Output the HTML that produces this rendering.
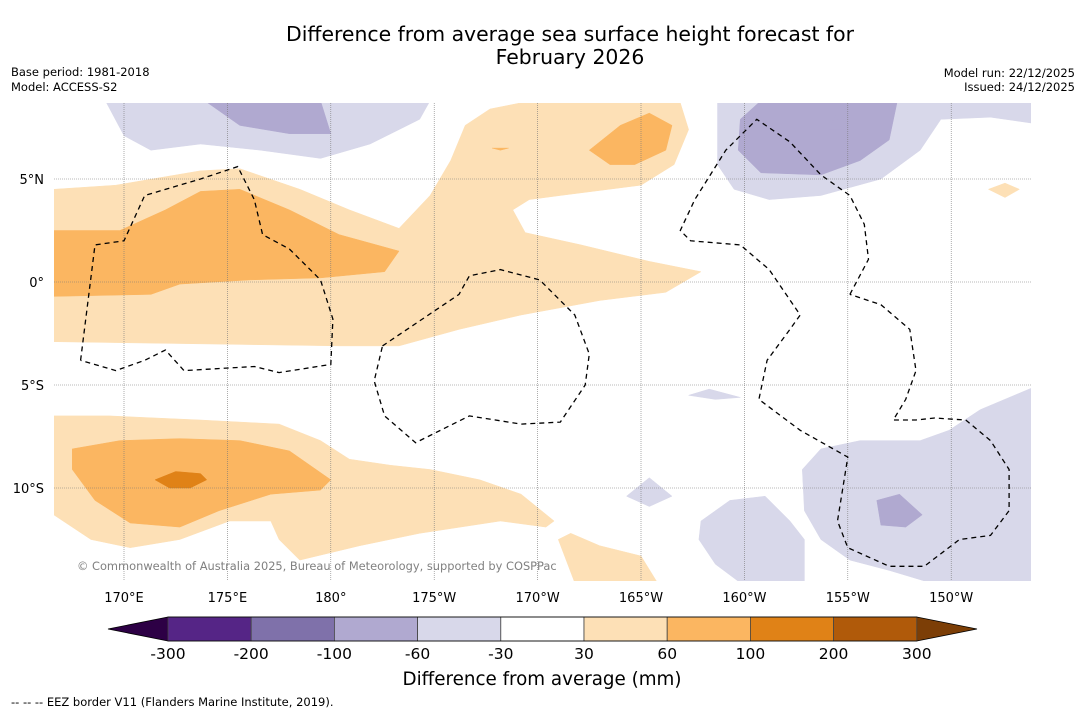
<!DOCTYPE html>
<html><head><meta charset="utf-8"><style>
body{margin:0;background:#fff;width:1085px;height:713px;overflow:hidden;font-family:"DejaVu Sans","Liberation Sans",sans-serif}
svg text{font-family:"DejaVu Sans","Liberation Sans",sans-serif}
</style></head><body>
<svg id="chart" width="1085" height="713" xmlns="http://www.w3.org/2000/svg">
<text x="570" y="41" font-size="20.4" text-anchor="middle">Difference from average sea surface height forecast for</text>
<text x="570" y="64" font-size="20.4" text-anchor="middle">February 2026</text>
<text x="11" y="76" font-size="11.5">Base period: 1981-2018</text>
<text x="11" y="91" font-size="11.5">Model: ACCESS-S2</text>
<text x="1075" y="77" font-size="11.5" text-anchor="end">Model run: 22/12/2025</text>
<text x="1075" y="91" font-size="11.5" text-anchor="end">Issued: 24/12/2025</text>
<defs><clipPath id="mapclip"><rect x="54" y="103" width="977" height="478"/></clipPath></defs>
<g id="map" clip-path="url(#mapclip)"></g>
<g id="grid"></g>
<g id="eez" clip-path="url(#mapclip)"></g>
<g id="axes"></g>
<text x="77" y="570" font-size="11.4" fill="#808080">© Commonwealth of Australia 2025, Bureau of Meteorology, supported by COSPPac</text>
<g id="cbar"></g>
<text x="542" y="685" font-size="18.3" text-anchor="middle">Difference from average (mm)</text>
<text x="11" y="706" font-size="11.5">--  --  -- EEZ border V11 (Flanders Marine Institute, 2019).</text>
</svg>
<script>
const lonTicks=[170,175,180,185,190,195,200,205,210];
const lonLabels=["170°E","175°E","180°","175°W","170°W","165°W","160°W","155°W","150°W"];
const latTicks=[5,0,-5,-10];
const latLabels=["5°N","0°","5°S","10°S"];
const cbColors=["#552586","#7f71aa","#b0a9d0","#d8d8ea","#ffffff","#fde0b6","#fbb661","#e08217","#b05a0a"];
const cbLow="#2d0045",cbHigh="#7c3e06";
const cbLabels=["-300","-200","-100","-60","-30","30","60","100","200","300"];
const lightOrange=[
[166.6,4.5,169.6,4.7,173.7,5.4,175.6,5.5,178.5,4.5,180.9,3.5,183.3,2.6,184.8,4.2,185.8,5.9,186.5,7.6,187.7,8.4,189.2,8.7,196.9,8.7,197.3,7.4,196.6,5.7,195.0,4.7,191.1,4.2,189.6,4.0,188.8,3.5,189.4,2.4,192.1,1.8,195.4,1.0,197.9,0.5,196.2,-0.5,193.0,-0.9,189.2,-1.6,186.2,-2.3,183.3,-3.1,180.4,-3.1,166.6,-2.9],
[166.6,-6.5,169.3,-6.5,173.7,-6.7,177.5,-6.9,179.5,-7.7,180.9,-8.6,182.9,-8.9,184.8,-9.1,187.2,-9.6,189.2,-10.3,190.8,-11.6,190.4,-11.9,188.2,-11.6,184.3,-12.2,181.4,-12.8,178.5,-13.5,177.5,-12.5,177.1,-11.6,175.1,-11.6,172.7,-12.5,170.3,-12.9,168.4,-12.5,166.6,-11.3],
[191.6,-12.2,193.0,-12.8,195.0,-13.3,195.8,-14.6,191.8,-14.6,191.0,-12.5],
[211.8,4.5,212.6,4.8,213.3,4.5,212.6,4.1]];
const medOrange=[
[166.6,2.5,169.8,2.5,172.0,3.5,173.7,4.4,175.6,4.5,178.0,3.5,180.4,2.3,183.3,1.5,182.6,0.5,179.5,0.2,176.1,0.1,172.7,-0.1,171.3,-0.6,166.6,-0.7],
[192.5,6.4,194.0,7.6,195.4,8.2,196.5,7.6,196.2,6.4,194.7,5.7,193.5,5.7],
[187.8,6.5,188.6,6.5,188.2,6.4],
[167.5,-8.1,169.8,-7.7,172.7,-7.6,175.6,-7.7,178.0,-8.2,180.0,-9.6,179.5,-10.1,177.1,-10.3,174.6,-11.1,172.7,-11.9,170.3,-11.7,168.6,-10.6,167.5,-9.1]];
const darkOrange=[[171.5,-9.6,172.5,-9.2,173.7,-9.3,174.0,-9.6,173.2,-10.0,172.2,-10.0]];
const lightPurple=[
[169.1,8.8,184.8,8.8,184.3,7.9,181.9,6.7,179.5,6.0,176.6,6.4,173.7,6.7,171.3,6.4,170.0,7.1],
[198.7,8.8,214,8.8,214,7.7,211.9,8.0,209.5,7.9,208.5,6.4,206.6,5.0,203.7,4.2,201.2,4.0,199.5,4.5,198.7,5.7],
[214,-5.1,214,-14.6,209.0,-14.6,207.0,-14.0,205.1,-13.5,203.7,-12.5,202.9,-11.1,202.8,-9.1,203.7,-8.1,205.6,-7.7,208.5,-7.7,209.9,-7.2,211.4,-6.2],
[197.9,-11.6,199.3,-10.6,201.0,-10.4,202.2,-11.6,202.9,-12.5,202.9,-14.6,199.8,-14.6,198.6,-13.7,197.8,-12.5],
[194.3,-10.4,195.4,-9.5,196.5,-10.4,195.4,-10.9],
[197.3,-5.5,198.3,-5.2,199.8,-5.6,198.6,-5.7]];
const medPurple=[
[173.9,8.8,179.5,8.8,180.0,7.2,178.0,7.2,175.6,7.6],
[199.8,7.9,200.8,8.8,207.4,8.8,207.0,6.9,205.6,5.9,203.7,5.2,200.8,5.3,199.7,6.4],
[204.1,7.4,204.4,8.1,204.7,7.4],
[206.4,-10.6,207.5,-10.3,208.6,-11.3,207.8,-11.9,206.6,-11.8]];
const eezLines=[
[167.9,-3.8,168.6,1.8,170.0,2.0,171.0,4.2,173.7,5.0,175.5,5.6,176.3,4.0,176.7,2.3,178.0,1.6,179.5,0.1,180.1,-1.8,180.0,-4.0,177.5,-4.4,176.3,-4.1,172.9,-4.3,172.0,-3.3,171.0,-3.8,169.6,-4.3,167.9,-3.8],
[182.5,-3.1,186.2,-0.6,186.7,0.3,188.2,0.6,190.1,0.1,191.8,-1.6,192.5,-3.5,192.3,-5.0,191.1,-6.8,189.2,-6.9,186.7,-6.5,184.1,-7.8,182.6,-6.5,182.1,-4.8,182.5,-3.1],
[205.1,-0.6,206.0,1.1,205.8,2.8,205.1,4.2,203.7,5.2,202.2,6.8,200.6,7.9,199.1,6.4,197.6,4.0,196.9,2.5,197.4,2.0,199.8,1.8,201.2,0.6,202.7,-1.6,202.2,-2.3,201.1,-3.8,200.7,-5.7,202.7,-7.2,205.0,-8.5,204.5,-11.6,205.0,-12.9,207.0,-13.8,208.7,-13.8,210.4,-12.5,211.9,-12.3,212.8,-11.1,212.8,-9.1,211.9,-7.7,210.7,-6.7,209.2,-6.6,208.3,-6.7,207.2,-6.7,207.8,-5.7,208.3,-4.3,208.0,-2.3,206.6,-1.1,205.1,-0.6]];

const NS="http://www.w3.org/2000/svg";
const X=lon=>124+(lon-170)*20.68;
const Y=lat=>282-lat*20.6;
function pts(a){let s=[];for(let i=0;i<a.length;i+=2)s.push(X(a[i]).toFixed(1)+","+Y(a[i+1]).toFixed(1));return s.join(" ");}
const map=document.getElementById('map');
function layer(list,fill,name){list.forEach(p=>{const e=document.createElementNS(NS,'polygon');e.setAttribute('points',pts(p));e.setAttribute('fill',fill);
e.setAttribute('stroke',fill);e.setAttribute('stroke-width','0.5');


map.appendChild(e);});}
layer(lightOrange,cbColors[5],'anomaly-30-60');
layer(medOrange,cbColors[6],'anomaly-60-100');
layer(darkOrange,cbColors[7],'anomaly-100-200');
layer(lightPurple,cbColors[3],'anomaly-minus60-minus30');
layer(medPurple,cbColors[2],'anomaly-minus100-minus60');
const eez=document.getElementById('eez');
eezLines.forEach(p=>{const e=document.createElementNS(NS,'polyline');e.setAttribute('points',pts(p));e.setAttribute('fill','none');e.setAttribute('stroke','#000');e.setAttribute('stroke-width','1.3');e.setAttribute('stroke-dasharray','5,4');


eez.appendChild(e);});
const grid=document.getElementById('grid'),axes=document.getElementById('axes');
lonTicks.forEach((t,i)=>{const l=document.createElementNS(NS,'line');l.setAttribute('x1',X(t));l.setAttribute('x2',X(t));l.setAttribute('y1',103);l.setAttribute('y2',581);l.setAttribute('stroke','#777');l.setAttribute('stroke-width','0.6');l.setAttribute('stroke-dasharray','1,1');


grid.appendChild(l);
const tx=document.createElementNS(NS,'text');tx.setAttribute('x',X(t));tx.setAttribute('y',602);tx.setAttribute('font-size','13');tx.setAttribute('text-anchor','middle');tx.textContent=lonLabels[i];


axes.appendChild(tx);});
latTicks.forEach((t,i)=>{const l=document.createElementNS(NS,'line');l.setAttribute('x1',54);l.setAttribute('x2',1031);l.setAttribute('y1',Y(t));l.setAttribute('y2',Y(t));l.setAttribute('stroke','#777');l.setAttribute('stroke-width','0.6');l.setAttribute('stroke-dasharray','1,1');


grid.appendChild(l);
const tx=document.createElementNS(NS,'text');tx.setAttribute('x',44);tx.setAttribute('y',Y(t)+5);tx.setAttribute('font-size','13');tx.setAttribute('text-anchor','end');tx.textContent=latLabels[i];


axes.appendChild(tx);});
const cb=document.getElementById('cbar');const cx0=168,cw=83.2,cy=617,ch=24;
const lt=document.createElementNS(NS,'polygon');lt.setAttribute('points',`108,629 ${cx0},${cy} ${cx0},${cy+ch}`);lt.setAttribute('fill',cbLow);


cb.appendChild(lt);
const xe=cx0+cw*cbColors.length;
const rt=document.createElementNS(NS,'polygon');rt.setAttribute('points',`${xe},${cy} 977,629 ${xe},${cy+ch}`);rt.setAttribute('fill',cbHigh);


cb.appendChild(rt);
cbColors.forEach((c,i)=>{const r=document.createElementNS(NS,'rect');r.setAttribute('x',cx0+i*cw);r.setAttribute('y',cy);r.setAttribute('width',cw);r.setAttribute('height',ch);r.setAttribute('fill',c);r.setAttribute('stroke','#444');r.setAttribute('stroke-width','0.8');


cb.appendChild(r);});
const ol=document.createElementNS(NS,'polygon');ol.setAttribute('points',`108,629 ${cx0},${cy} ${xe},${cy} 977,629 ${xe},${cy+ch} ${cx0},${cy+ch}`);ol.setAttribute('fill','none');ol.setAttribute('stroke','#000');ol.setAttribute('stroke-width','0.8');


cb.appendChild(ol);
cbLabels.forEach((s,i)=>{const tx=document.createElementNS(NS,'text');tx.setAttribute('x',cx0+i*cw);tx.setAttribute('y',659);tx.setAttribute('font-size','15.5');tx.setAttribute('text-anchor','middle');tx.textContent=s;


cb.appendChild(tx);});
</script>
</body></html>
